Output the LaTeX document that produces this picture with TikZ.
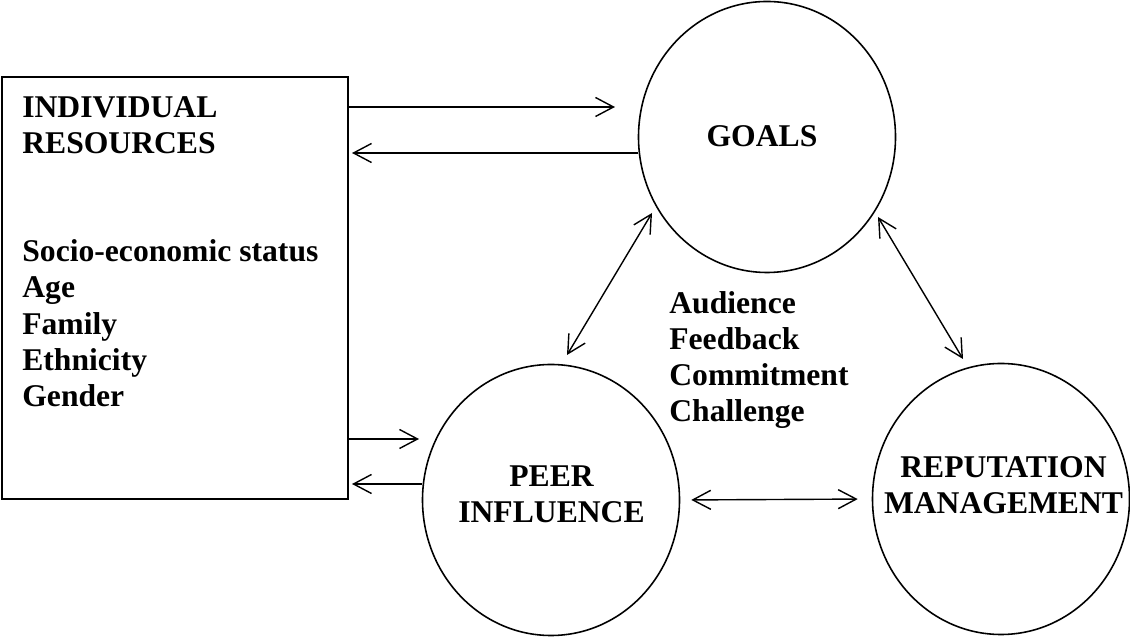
\documentclass[tikz,border=0pt]{standalone}
\usepackage{fontspec}
\setmainfont{Liberation Serif}
\usetikzlibrary{arrows.meta,%
  shapes.geometric}

\begin{document}
\begin{tikzpicture}[bubble/.style={ellipse,draw,line width=0.9pt,minimum width=5.14cm,minimum height=5.42cm,inner sep=0pt},
  res_box/.style={rectangle,draw,line width=0.9pt,minimum width=6.92cm,minimum height=8.44cm,inner sep=0pt},
  big_text/.style={font=\fontsize{18}{20.6}\selectfont\bfseries,inner sep=0pt},
  link/.style={line width=0.8pt},
  >={Straight Barb[length=3.6mm,width=3.8mm]}]

  \useasboundingbox (0,0) rectangle (22.6,12.82);

  % resources box
  \node[res_box] (res) at (3.5,7.06) {};
  \node[big_text,align=left,anchor=north west] (res_txt) at (0.44,10.9)
    {INDIVIDUAL\\RESOURCES\\[1.44cm]Socio-economic status\\Age\\Family\\Ethnicity\\Gender};

  % the three circles
  \node[bubble] (goals) at (15.34,10.08) {};
  \node[bubble] (peer) at (11.02,2.82) {};
  \node[bubble] (rep) at (20.02,2.84) {};
  \node[big_text] (goals_txt) at (15.24,10.1) {GOALS};
  \node[big_text,align=center] (peer_txt) at (11.03,2.94) {PEER\\INFLUENCE};
  \node[big_text,align=center] (rep_txt) at (20.07,3.11) {REPUTATION\\MANAGEMENT};

  \node[big_text,align=left,anchor=north west] (mid_txt) at (13.38,7.0)
    {Audience\\Feedback\\Commitment\\Challenge};

  % free arrow ends
  \coordinate (goals_in) at (12.3,10.68);
  \coordinate (res_in) at (7.04,9.76);
  \coordinate (peer_in) at (8.38,4.04);
  \coordinate (res_in2) at (7.04,3.14);
  \coordinate (gp_a) at (13.04,8.56);
  \coordinate (gp_b) at (11.34,5.72);
  \coordinate (gr_a) at (17.56,8.48);
  \coordinate (gr_b) at (19.26,5.64);

  \draw[link,->] (res.east |- goals_in) -- (goals_in);
  \draw[link,->] (goals.west |- res_in) -- (res_in);
  \draw[link,->] (res.east |- peer_in) -- (peer_in);
  \draw[link,->] (peer.west |- res_in2) -- (res_in2);
  \draw[link,<->] (gp_a) -- (gp_b);
  \draw[link,<->] (gr_a) -- (gr_b);
  \draw[link,<->,shorten <=0.22cm,shorten >=0.28cm] (peer.east) -- (rep.west);

\end{tikzpicture}
\end{document}
